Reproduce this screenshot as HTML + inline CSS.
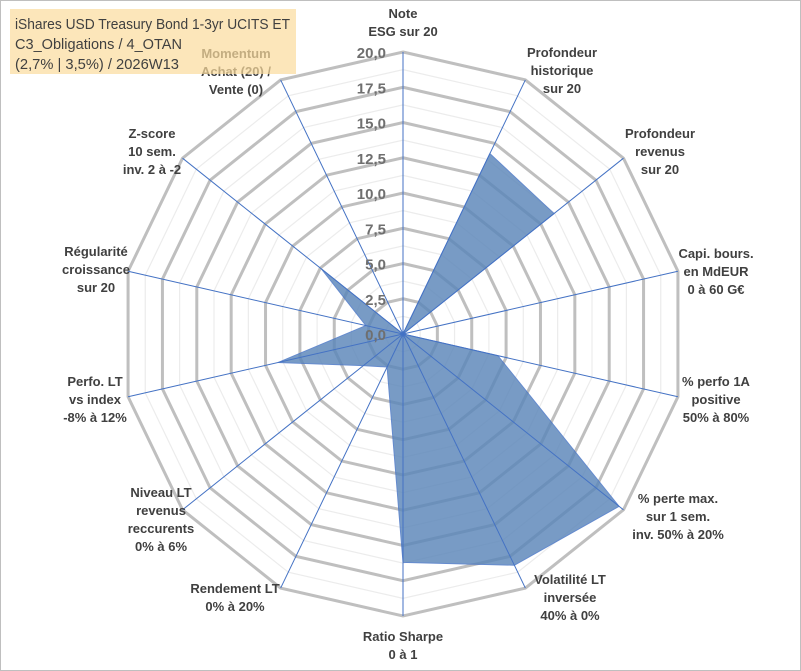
<!DOCTYPE html>
<html><head><meta charset="utf-8"><style>
body{margin:0;background:#fff}
svg{display:block;font-family:"Liberation Sans",sans-serif}
</style></head><body>
<svg id="chart" width="801" height="671" viewBox="0 0 801 671">
<rect x="0.5" y="0.5" width="800" height="670" fill="#fff" stroke="#bfbfbf"/>
<g id="grid"></g>
<g id="series"></g>
<g id="spokes"></g>
<g id="labels"></g>
<rect x="10" y="9" width="286" height="65" fill="#fbdc9c" opacity="0.7"/>
<g font-family="Liberation Sans, sans-serif" font-size="15" fill="#404040">
<text x="15" y="29" textLength="275" lengthAdjust="spacingAndGlyphs">iShares USD Treasury Bond 1-3yr UCITS ET</text>
<text x="15" y="49" textLength="167" lengthAdjust="spacingAndGlyphs">C3_Obligations / 4_OTAN</text>
<text x="15" y="69" textLength="164" lengthAdjust="spacingAndGlyphs">(2,7% | 3,5%) / 2026W13</text>
</g>
<g id="ticks"></g>
</svg>
<script>
const categories = [
 ["Note","ESG sur 20"],
 ["Profondeur","historique","sur 20"],
 ["Profondeur","revenus","sur 20"],
 ["Capi. bours.","en MdEUR","0 à 60 G€"],
 ["% perfo 1A","positive","50% à 80%"],
 ["% perte max.","sur 1 sem.","inv. 50% à 20%"],
 ["Volatilité LT","inversée","40% à 0%"],
 ["Ratio Sharpe","0 à 1"],
 ["Rendement LT","0% à 20%"],
 ["Niveau LT","revenus","reccurents","0% à 6%"],
 ["Perfo. LT","vs index","-8% à 12%"],
 ["Régularité","croissance","sur 20"],
 ["Z-score","10 sem.","inv. 2 à -2"],
 ["Momentum","Achat (20) /","Vente (0)"]
];
const values = [0, 14.2, 13.7, 0, 6.9, 19.6, 18.2, 16.2, 2.6, 3.6, 9.1, 2.7, 7.4, 0];
const tickLabels = ["0,0","2,5","5,0","7,5","10,0","12,5","15,0","17,5","20,0"];
const tickValues = [0,2.5,5,7.5,10,12.5,15,17.5,20];
const labelPos = [[403,13],[562,52],[660,133],[716,253],[716,381],[678,498],[570,579],[403,636],[235,588],[161,492],[95,381],[96,251],[152,133],[236,53]];

const NS="http://www.w3.org/2000/svg";
const cx=403, cy=334, R=282, maxV=20, N=categories.length;
function rScale(v){return v/maxV*R;}
function pt(i,v){const a=i*2*Math.PI/N;return [cx+rScale(v)*Math.sin(a), cy-rScale(v)*Math.cos(a)];}
function mk(tag,parent,attrs){const e=document.createElementNS(NS,tag);for(const k in attrs)e.setAttribute(k,attrs[k]);document.getElementById(parent).appendChild(e);return e;}
function ring(v){let s=[];for(let i=0;i<N;i++)s.push(pt(i,v).join(","));return s.join(" ");}

for(let k=1;k<16;k+=2){
 const e=mk("polygon","grid",{points:ring(k*1.25),fill:"none",stroke:"#ececec","stroke-width":1.2});
 
 
}
tickValues.forEach(v=>{
 if(v===0)return;
 const e=mk("polygon","grid",{points:ring(v),fill:"none",stroke:"#bfbfbf","stroke-width":3});
 
 
});
const poly=mk("polygon","series",{points:values.map((v,i)=>pt(i,v).join(",")).join(" "),fill:"#5b86b9",opacity:"0.82",stroke:"#4472c4","stroke-width":1});


for(let i=0;i<N;i++){
 const p=pt(i,maxV);
 const e=mk("line","spokes",{x1:cx,y1:cy,x2:p[0],y2:p[1],stroke:"#4472c4","stroke-width":1});
 
 
}
tickValues.forEach((v,j)=>{
 const e=mk("text","ticks",{x:386,y:cy-rScale(v)+6,"text-anchor":"end","font-size":15,"font-weight":"bold",fill:"#6f6f6f"});
 e.textContent=tickLabels[j];
 
 
});
categories.forEach((lines,i)=>{
 const [x,y]=labelPos[i];
 const t=mk("text","labels",{x:x,y:y+5,"text-anchor":"middle","font-size":13,"font-weight":"bold",fill:"#404040"});
 
 
 lines.forEach((l,k)=>{
  const s=document.createElementNS(NS,"tspan");
  s.setAttribute("x",x);s.setAttribute("dy",k===0?0:18);
  s.textContent=l;t.appendChild(s);
 });
});
</script>
</body></html>
